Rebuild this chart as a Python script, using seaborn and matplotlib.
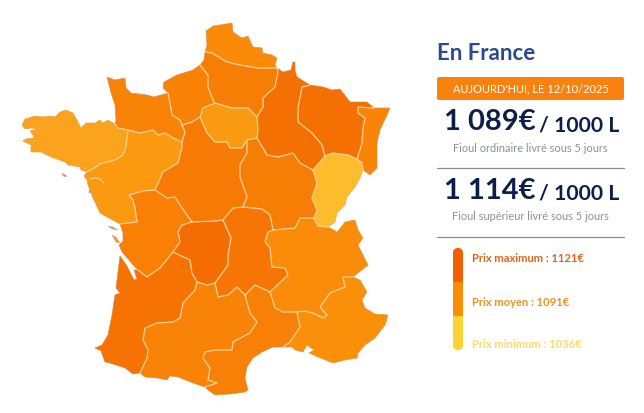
#! /usr/bin/env python3
import seaborn as sns
import matplotlib
matplotlib.use("Agg")
import matplotlib.pyplot as plt
from matplotlib import patches as mpatches

COAST_BRETAGNE = [(115,124),(108,120),(103,123),(100,120),(95,123),(86,123),(81,128),(78,122),(73,113),(66,110),(60,112),(55,117),(50,116),(43,117),(35,116),(25,119),(22,125),(25,129),(31,128),(37,129),(30,131),(33,135),(34,138),(26,139),(23,141),(31,145),(31,152),(41,152),(51,157),(65,162),(68,165),(80,167),(81,170),(87,172)]
COAST_BASSE_NORM = [(115,124),(116,120),(115,105),(111,93),(107,77),(115,80),(125,78),(126,88),(131,93),(147,95),(154,97),(168,93)]
COAST_HAUTE_NORM = [(168,93),(163,88),(164,82),(177,75),(193,70),(200,65)]
COAST_PICARDIE = [(200,65),(204,60),(205,52)]
COAST_NORD = [(205,52),(207,45),(206,31),(213,26),(232,23),(233,32),(242,38),(248,36),(253,47),(262,48),(263,53),(272,55),(277,58),(275,65),(277,68)]
COAST_CHAMPAGNE = [(277,68),(283,72),(291,70),(293,62),(295,62),(295,70),(297,77),(310,85)]
COAST_LORRAINE = [(310,85),(323,87),(332,90),(340,89),(350,102),(357,102),(367,102),(374,108)]
COAST_ALSACE = [(374,108),(390,108),(387,115),(380,130),(377,143),(377,168),(370,175),(363,170)]
COAST_FRANCHE = [(363,170),(360,178),(355,187),(347,197),(345,205),(337,213),(335,222),(328,227)]
COAST_RHONE = [(328,227),(334,230),(337,232),(342,226),(345,222),(355,220),(358,230),(363,238),(358,245),(363,255),(368,265),(353,277)]
COAST_PACA = [(353,277),(360,280),(367,292),(362,300),(365,308),(375,314),(388,315),(385,325),(375,338),(365,345),(358,353),(357,358),(345,360),(333,363),(318,357),(309,353),(314,350),(307,345),(303,352),(295,350),(292,347),(283,347)]
COAST_LANGUEDOC = [(283,347),(273,347),(262,352),(253,358),(247,367),(245,378),(248,390),(245,392),(230,394),(215,395),(208,390),(205,387)]
COAST_MIDI = [(205,387),(193,383),(178,377),(170,376),(167,380),(157,378),(145,377),(140,373)]
COAST_AQUITAINE = [(140,373),(133,374),(125,368),(110,363),(105,362),(101,351),(95,348),(102,345),(108,335),(112,315),(115,295),(120,293),(116,288),(120,256),(127,266),(131,274),(134,280),(137,279),(134,270),(138,270)]
COAST_POITOU = [(138,270),(134,266),(128,259),(122,252),(119,245),(123,241),(123,233),(120,224)]
COAST_LOIRE = [(120,224),(107,217),(100,213),(93,198),(88,185),(87,180),(84,176),(87,172)]

BORDER_BRE_LOIRE = [(87,172),(96,167),(100,164),(115,160),(123,155),(126,147),(128,130)]
BORDER_BRE_BASSE = [(128,130),(118,128),(115,124)]
BORDER_BASSE_LOIRE = [(128,130),(140,133),(153,130),(158,135),(165,133),(173,138),(182,142)]
BORDER_BASSE_HAUTE = [(168,93),(170,103),(172,115),(180,120),(182,125)]
BORDER_BASSE_CENTRE = [(182,125),(185,132),(182,142)]
BORDER_LOIRE_CENTRE = [(182,142),(182,147),(178,163),(163,172),(155,190)]
BORDER_LOIRE_POITOU = [(155,190),(143,191),(129,195),(133,200),(135,208),(137,222),(120,224)]
BORDER_HAUTE_CENTRE = [(182,125),(192,122),(200,117)]
BORDER_HAUTE_IDF = [(200,117),(203,108),(215,103)]
BORDER_HAUTE_PICARDIE = [(215,103),(213,100),(208,87),(208,75),(200,65)]
BORDER_PICARDIE_NORD = [(205,52),(212,53),(227,62),(240,65),(257,68),(277,68)]
BORDER_PICARDIE_CHAMP = [(277,68),(278,72),(275,87),(263,98),(263,107),(257,117)]
BORDER_PICARDIE_IDF = [(257,117),(248,108),(232,108),(215,103)]
BORDER_IDF_CHAMP = [(257,117),(258,130),(257,138)]
BORDER_IDF_BOURG = [(257,138),(247,140)]
BORDER_IDF_CENTRE = [(247,140),(242,148),(230,148),(227,142),(215,142),(207,133),(200,117)]
BORDER_CHAMP_LORRAINE = [(310,85),(302,87),(298,108),(298,122),(312,133),(322,145),(325,156)]
BORDER_CHAMP_BOURG = [(257,138),(267,155),(278,157),(293,153),(300,163),(313,170)]
BORDER_CHAMP_FRANCHE = [(313,170),(325,156)]
BORDER_LORRAINE_FRANCHE = [(325,156),(333,153),(348,155),(357,159)]
BORDER_LORRAINE_ALSACE = [(374,108),(358,107),(358,113),(365,118),(363,128),(362,143),(357,159)]
BORDER_ALSACE_FRANCHE = [(357,159),(362,163),(363,170)]
BORDER_FRANCHE_BOURG = [(313,170),(317,183),(312,198),(317,210),(314,218)]
BORDER_FRANCHE_RHONE = [(314,218),(318,226),(328,227)]
BORDER_BOURG_RHONE = [(314,218),(300,218),(295,228),(273,230)]
BORDER_BOURG_AUV = [(273,230),(270,215),(262,209),(243,207)]
BORDER_BOURG_CENTRE = [(243,207),(247,197),(240,177),(240,165),(247,153),(247,140)]
BORDER_CENTRE_AUV = [(243,207),(233,208),(223,220)]
BORDER_CENTRE_LIMOUSIN = [(223,220),(215,221),(192,222)]
BORDER_CENTRE_POITOU = [(192,222),(182,208),(175,197),(167,198),(155,190)]
BORDER_POITOU_LIMOUSIN = [(192,222),(182,225),(178,232),(180,242),(173,252)]
BORDER_POITOU_AQUITAINE = [(173,252),(160,268),(147,277),(138,270)]
BORDER_LIMOUSIN_AQUITAINE = [(173,252),(190,260),(192,273),(197,282)]
BORDER_LIMOUSIN_MIDI = [(197,282),(207,285),(215,283)]
BORDER_LIMOUSIN_AUV = [(215,283),(228,265),(228,255),(231,238),(223,220)]
BORDER_AUV_MIDI = [(215,283),(218,297),(228,295),(237,287),(245,295)]
BORDER_AUV_LANG = [(245,295),(255,285),(270,292)]
BORDER_AUV_RHONE = [(270,292),(288,275),(285,268),(272,267),(270,248),(265,242),(268,232),(273,230)]
BORDER_RHONE_LANG = [(270,292),(275,308),(283,312),(297,312)]
BORDER_RHONE_PACA = [(297,312),(305,311),(313,313),(323,318),(327,315),(320,307),(330,293),(345,287),(343,277),(353,277)]
BORDER_LANG_PACA = [(297,312),(300,327),(290,342),(283,347)]
BORDER_MIDI_LANG = [(245,295),(250,313),(257,322),(250,333),(233,342),(232,350),(215,350),(205,352),(203,358),(210,368),(208,380),(217,383),(205,387)]
BORDER_MIDI_AQUITAINE = [(197,282),(195,290),(183,303),(180,318),(173,322),(157,323),(145,328),(143,340),(148,350),(147,358),(140,373)]

INNER_BORDERS = [v for k, v in list(globals().items()) if k.startswith("BORDER_")]
ALL_COASTS = [v for k, v in list(globals().items()) if k.startswith("COAST_")]

# Small islands and the Loire estuary
ISLANDS = [
    ([(62,173),(66,175),(67,177),(63,176)], "#c9a77c"),
    ([(108,226),(113,227),(118,230),(112,229)], "#c7a27a"),
    ([(112,235),(116,237),(120,243),(116,242)], "#e89a50"),
    ([(89,190),(91,190),(92,193),(89,193)], "#b9a58e"),
]
LOIRE_ESTUARY = [(90,179),(95,178),(100,179),(104,183)]

# Borders of each region, chained into a closed outline when drawing
REGION_PIECES = {
    "Bretagne": [COAST_BRETAGNE, BORDER_BRE_LOIRE, BORDER_BRE_BASSE],
    "Basse-Normandie": [COAST_BASSE_NORM, BORDER_BASSE_HAUTE, BORDER_BASSE_CENTRE, BORDER_BASSE_LOIRE, BORDER_BRE_BASSE],
    "Haute-Normandie": [COAST_HAUTE_NORM, BORDER_HAUTE_PICARDIE, BORDER_HAUTE_IDF, BORDER_HAUTE_CENTRE, BORDER_BASSE_HAUTE],
    "Pays de la Loire": [BORDER_BRE_LOIRE, BORDER_BASSE_LOIRE, BORDER_LOIRE_CENTRE, BORDER_LOIRE_POITOU, COAST_LOIRE],
    "Poitou-Charentes": [COAST_POITOU, BORDER_LOIRE_POITOU, BORDER_CENTRE_POITOU, BORDER_POITOU_LIMOUSIN, BORDER_POITOU_AQUITAINE],
    "Aquitaine": [COAST_AQUITAINE, BORDER_POITOU_AQUITAINE, BORDER_LIMOUSIN_AQUITAINE, BORDER_MIDI_AQUITAINE],
    "Centre": [BORDER_BASSE_CENTRE, BORDER_LOIRE_CENTRE, BORDER_CENTRE_POITOU, BORDER_CENTRE_LIMOUSIN, BORDER_CENTRE_AUV, BORDER_BOURG_CENTRE, BORDER_IDF_CENTRE, BORDER_HAUTE_CENTRE],
    "Picardie": [COAST_PICARDIE, BORDER_PICARDIE_NORD, BORDER_PICARDIE_CHAMP, BORDER_PICARDIE_IDF, BORDER_HAUTE_PICARDIE],
    "Nord": [COAST_NORD, BORDER_PICARDIE_NORD],
    "Ile-de-France": [BORDER_PICARDIE_IDF, BORDER_IDF_CHAMP, BORDER_IDF_BOURG, BORDER_IDF_CENTRE, BORDER_HAUTE_IDF],
    "Champagne": [COAST_CHAMPAGNE, BORDER_CHAMP_LORRAINE, BORDER_CHAMP_FRANCHE, BORDER_CHAMP_BOURG, BORDER_IDF_CHAMP, BORDER_PICARDIE_CHAMP],
    "Lorraine": [COAST_LORRAINE, BORDER_LORRAINE_ALSACE, BORDER_LORRAINE_FRANCHE, BORDER_CHAMP_LORRAINE],
    "Alsace": [COAST_ALSACE, BORDER_ALSACE_FRANCHE, BORDER_LORRAINE_ALSACE],
    "Franche-Comte": [BORDER_LORRAINE_FRANCHE, BORDER_ALSACE_FRANCHE, COAST_FRANCHE, BORDER_FRANCHE_RHONE, BORDER_FRANCHE_BOURG, BORDER_CHAMP_FRANCHE],
    "Bourgogne": [BORDER_CHAMP_BOURG, BORDER_FRANCHE_BOURG, BORDER_BOURG_RHONE, BORDER_BOURG_AUV, BORDER_BOURG_CENTRE, BORDER_IDF_BOURG],
    "Limousin": [BORDER_CENTRE_LIMOUSIN, BORDER_POITOU_LIMOUSIN, BORDER_LIMOUSIN_AQUITAINE, BORDER_LIMOUSIN_MIDI, BORDER_LIMOUSIN_AUV],
    "Auvergne": [BORDER_LIMOUSIN_AUV, BORDER_AUV_MIDI, BORDER_AUV_LANG, BORDER_AUV_RHONE, BORDER_BOURG_AUV, BORDER_CENTRE_AUV],
    "Rhone-Alpes": [BORDER_BOURG_RHONE, BORDER_AUV_RHONE, BORDER_RHONE_LANG, BORDER_RHONE_PACA, COAST_RHONE, BORDER_FRANCHE_RHONE],
    "PACA": [BORDER_RHONE_PACA, COAST_PACA, BORDER_LANG_PACA],
    "Languedoc": [BORDER_AUV_LANG, BORDER_RHONE_LANG, BORDER_LANG_PACA, COAST_LANGUEDOC, BORDER_MIDI_LANG],
    "Midi-Pyrenees": [BORDER_MIDI_AQUITAINE, COAST_MIDI, BORDER_MIDI_LANG, BORDER_AUV_MIDI, BORDER_LIMOUSIN_MIDI],
}

REGION_COLOURS = {
    "Bretagne": "#fba31c", "Basse-Normandie": "#f98306", "Haute-Normandie": "#f98106",
    "Pays de la Loire": "#fb9a10", "Poitou-Charentes": "#f97f05", "Aquitaine": "#f67203",
    "Centre": "#f77a04", "Picardie": "#f77e05", "Nord": "#fa8a08", "Ile-de-France": "#fa9a10",
    "Champagne": "#f57002", "Lorraine": "#f57002", "Alsace": "#f88508", "Franche-Comte": "#fcbc2c",
    "Bourgogne": "#f77e05", "Limousin": "#f56c02", "Auvergne": "#f67504", "Rhone-Alpes": "#fa8c0a",
    "PACA": "#fa8f0a", "Languedoc": "#f88007", "Midi-Pyrenees": "#f98306",
}

TITLE = "En France"
BANNER = "AUJOURD'HUI, LE 12/10/2025"
PRICES = ["1 089€", "1 114€"]
PRICE_UNIT = "/ 1000 L"
PRICE_NOTES = ["Fioul ordinaire livré sous 5 jours", "Fioul supérieur livré sous 5 jours"]
SCALE_LABELS = ["Prix maximum : 1121€", "Prix moyen : 1091€", "Prix minimum : 1036€"]
SCALE_TEXT_COLOURS = ["#d9641c", "#e8931f", "#f9da6a"]
SCALE_COLOURS = ["#ee6002", "#f98e05", "#ffd233"]
SCALE_SHARES = [1, 1, 1]

NAVY = "#0c1f4a"
W, H = 644, 413


def chain_ring(pieces):
    # join the borders end to end, flipping the ones that run backwards
    remaining = [list(p) for p in pieces]
    ring = remaining.pop(0)
    while remaining:
        for piece in remaining:
            if piece[0] == ring[-1]:
                ring += piece[1:]
                break
            if piece[-1] == ring[-1]:
                ring += piece[::-1][1:]
                break
        else:
            raise ValueError("open outline at %s" % (ring[-1],))
        remaining.remove(piece)
    return ring


def main():
    sns.set_theme(style="white")
    plt.rcParams['font.family'] = ['Lato', 'DejaVu Sans']

    f = plt.figure(figsize=(W / 100, H / 100), dpi=100)
    ax = f.add_axes([0, 0, 1, 1])
    ax.set_xlim(0, W)
    ax.set_ylim(H, 0)
    ax.axis("off")

    # Map: fills first then the pale inner borders on top
    for name, pieces in REGION_PIECES.items():
        xs, ys = zip(*chain_ring(pieces))
        ax.fill(xs, ys, color=REGION_COLOURS[name], lw=0.3, zorder=1)
    for line in ALL_COASTS:
        xs, ys = zip(*line)
        ax.plot(xs, ys, color="#b0a090", alpha=0.35, lw=0.5, zorder=2)
    for line in INNER_BORDERS + [LOIRE_ESTUARY]:
        xs, ys = zip(*line)
        ax.plot(xs, ys, color="#f6d29c", lw=0.9, zorder=3, solid_joinstyle="round")
    for outline, colour in ISLANDS:
        xs, ys = zip(*outline)
        ax.fill(xs, ys, color=colour, lw=0.3, zorder=2)

    # Right hand panel
    ax.text(437, 53, TITLE, color="#2a4a8c", fontsize=16, fontweight="bold", va="center", ha="left")
    ax.add_patch(mpatches.FancyBboxPatch((437, 77), 187, 23, boxstyle="round,pad=0,rounding_size=2",
                                         fc="#f9820f", ec="none"))
    ax.text(530.5, 89, BANNER, color="white", fontsize=8, va="center", ha="center")

    for i, y in enumerate([122, 191]):
        ax.text(444, y, PRICES[i], color=NAVY, fontsize=21, fontweight="bold", va="center", ha="left")
        ax.text(619, y + 3, PRICE_UNIT, color=NAVY, fontsize=15.2, fontweight="bold", va="center", ha="right")
    ax.text(530, 148, PRICE_NOTES[0], color="#8a8f99", fontsize=7.9, va="center", ha="center")
    ax.text(530, 217, PRICE_NOTES[1], color="#8a8f99", fontsize=7.9, va="center", ha="center")
    ax.plot([437, 624], [168, 168], color="#8c8c8c", lw=0.9)
    ax.plot([437, 624], [237, 237], color="#8c8c8c", lw=0.9)

    # Price scale as a stacked bar with rounded ends
    bar_ax = f.add_axes([453 / W, 1 - 350 / H, 10 / W, 102 / H])
    bottom = 0
    for share, colour in zip(SCALE_SHARES[::-1], SCALE_COLOURS[::-1]):
        sns.barplot(x=[0], y=[share], bottom=bottom, color=colour, saturation=1, width=1,
                    edgecolor="none", linewidth=0, ax=bar_ax)
        bottom += share
    bar_ax.set_xlim(-0.5, 0.5)
    bar_ax.set_ylim(0, sum(SCALE_SHARES))
    bar_ax.axis("off")
    clip = mpatches.FancyBboxPatch((453, 248), 10, 102, boxstyle="round,pad=0,rounding_size=5",
                                   transform=ax.transData, fc="none", ec="none")
    ax.add_patch(clip)
    for bar in bar_ax.patches:
        bar.set_clip_path(clip)

    for label, colour, y in zip(SCALE_LABELS, SCALE_TEXT_COLOURS, [258, 302, 344]):
        ax.text(472, y, label, color=colour, fontsize=8, fontweight="bold", va="center", ha="left")

    f.savefig("out.png", dpi=100)


if __name__ == "__main__":
    main()
